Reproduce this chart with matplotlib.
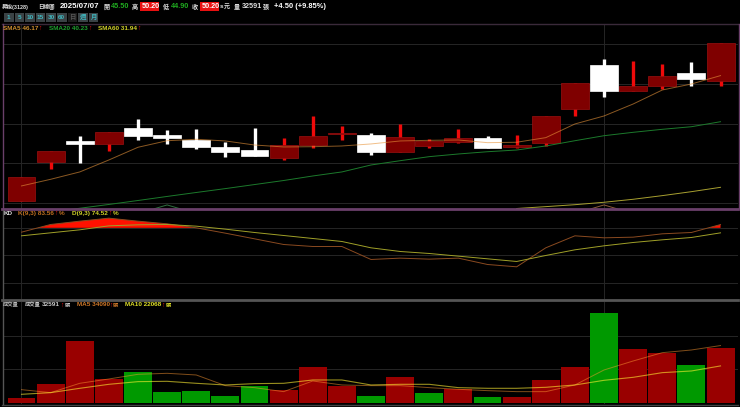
#!/usr/bin/env python3

import matplotlib
matplotlib.use("Agg")
import matplotlib.pyplot as plt
from matplotlib.patches import Rectangle
import numpy as np

plt.rcParams["font.family"] = ["Liberation Sans", "Noto Sans CJK TC", "DejaVu Sans"]

nan = np.nan
W, H = 740, 407

opens = [30.71, 35.49, 38.12, 37.75, 39.69, 38.79, 38.25, 37.31, 37.01, 36.02, 37.63, 38.92, 38.83,
         36.76, 37.51, 38.00, 38.50, 37.38, 37.88, 42.08, 47.44, 44.23, 44.85, 46.53, 45.50]
highs = [33.67, 36.89, 38.71, 39.16, 40.77, 39.45, 39.53, 37.96, 39.69, 38.46, 41.18, 39.94, 39.11,
         40.19, 38.37, 39.61, 38.71, 38.83, 41.18, 45.22, 48.22, 48.01, 47.57, 47.85, 50.20]
lows = [30.71, 34.59, 35.33, 36.81, 38.21, 37.75, 37.10, 36.15, 36.23, 35.74, 37.26, 38.21, 36.36,
        36.76, 37.26, 37.88, 37.26, 37.22, 37.51, 41.21, 43.56, 44.23, 44.55, 44.92, 44.90]
closes = [33.67, 36.89, 37.75, 39.16, 38.74, 38.42, 37.31, 36.76, 36.23, 37.59, 38.67, 39.11, 36.69,
          38.54, 38.12, 38.50, 37.26, 37.59, 41.18, 45.22, 44.27, 44.89, 46.08, 45.71, 50.20]
sma5 = [32.53, 33.35, 34.26, 35.74, 37.31, 38.12, 38.30, 38.09, 37.59, 37.35, 37.38, 37.47, 37.72,
        38.09, 38.17, 38.21, 37.88, 37.93, 38.50, 40.19, 41.18, 42.66, 44.39, 45.13, 46.17]
sma20 = [28.82, 29.31, 29.77, 30.24, 30.73, 31.23, 31.72, 32.20, 32.70, 33.20, 33.76, 34.26, 35.12,
         35.65, 36.15, 36.48, 36.76, 36.97, 37.47, 38.12, 38.74, 39.16, 39.53, 39.85, 40.47]
sma60 = [nan, nan, nan, nan, nan, nan, nan, nan, nan, nan, nan, nan, nan,
         nan, nan, nan, nan, 29.74, 29.97, 30.21, 30.51, 30.88, 31.33, 31.82, 32.36]
stub_x = [-0.45, 0, 0.45]
stub_y = [29.70, 30.18, 29.70]
price_grid = [50.04, 45.10, 40.15, 35.33, 30.40]

k_vals = [75.27, 83.64, 87.27, 90.54, 87.27, 84.36, 80.00, 74.18, 68.00, 61.82, 59.64, 59.64, 45.47,
          46.92, 45.83, 46.92, 40.00, 37.47, 58.19, 71.28, 69.10, 69.82, 73.46, 74.91, 83.56]
d_vals = [71.28, 74.55, 77.82, 82.18, 83.27, 83.64, 81.82, 78.55, 74.91, 71.64, 68.37, 65.10, 58.19,
          54.19, 52.01, 49.10, 46.19, 43.29, 49.83, 56.01, 60.37, 64.00, 66.91, 69.46, 74.52]
kd_grid = [80, 50, 20]

volume = [3147, 11605, 36980, 14360, 18293, 6688, 7475, 4327, 10425, 7671, 21440, 10425, 4131,
          15343, 6098, 8458, 3737, 3737, 13572, 21637, 53306, 32259, 29898, 22424, 32591]
vol_up = [1, 1, 1, 1, 0, 0, 0, 0, 0, 1, 1, 1, 0,
          1, 0, 1, 0, 1, 1, 1, 0, 1, 1, 0, 1]
ma5 = [8065, 6294, 11802, 14359, 17113, 17703, 16720, 10425, 9245, 6885, 13179, 10819, 10425,
       10425, 9245, 8261, 7475, 6885, 6885, 10819, 19670, 24981, 29898, 31472, 34090]
ma10 = [5311, 6294, 8852, 11212, 12786, 12982, 11802, 10819, 11605, 11802, 13769, 13769, 10819,
        11212, 11212, 9245, 8852, 8852, 9442, 10819, 13572, 15343, 18096, 19080, 22068]
vol_grid = [20000, 40000]

periods = ["1", "5", "10", "15", "30", "60", "日", "週", "月"]
x_grid = [0, 20]

x = np.arange(len(opens))
opens, closes, highs, lows = map(np.array, (opens, closes, highs, lows))
k_vals = np.array(k_vals)
up = closes >= opens

GRID = "#262626"
DARK = "#7f0000"
RED = "#ee0a0a"
ARROW = "#f01414"


def panel(top, bottom):
    ax = fig.add_axes([3 / W, 1 - bottom / H, (738 - 3) / W, (bottom - top) / H])
    ax.set_facecolor("black")
    ax.set_xlim(-0.635, 24.6)
    ax.set_xticks([])
    ax.set_yticks([])
    for s in ax.spines.values():
        s.set_visible(False)
    for g in x_grid:
        ax.axvline(g, color=GRID, lw=0.7, zorder=0)
    return ax


def txt(px, py, s, color="#dddddd", size=4.6, **kw):
    fig.text(px / W, 1 - py / H, s, color=color, fontsize=size, va="center",
             fontweight="bold", **kw)


fig = plt.figure(figsize=(7.4, 4.07), dpi=100, facecolor="black")

# price panel
ax1 = panel(24, 208.5)
ax1.set_ylim(29.74, 52.55)
for g in price_grid:
    ax1.axhline(g, color=GRID, lw=0.7, zorder=0)
wick_col = [RED if u else "white" for u in up]
ax1.vlines(x, lows, highs, colors=wick_col, lw=2.4, zorder=2)
body_bot = np.minimum(opens, closes)
body_h = np.abs(closes - opens)
ax1.bar(x, body_h, 0.96, bottom=body_bot, color=[DARK if u else "white" for u in up],
        edgecolor=["#9c1010" if u else "white" for u in up], lw=0.5, zorder=3)
ax1.plot(x, sma5, color="#e8943a", lw=0.7, alpha=0.6, zorder=4)
ax1.plot(x, sma20, color="#1c7a2c", lw=0.7, zorder=4)
ax1.plot(x, sma60, color="#a8a030", lw=0.7, zorder=4)
ax1.plot(np.array(stub_x) + 5, stub_y, color="#2f6f3f", lw=0.7, zorder=4)
ax1.plot(np.array(stub_x) + 20, stub_y, color="#8a5a3a", lw=0.7, zorder=4)

# KD panel
ax2 = panel(210.5, 298.5)
ax2.set_ylim(2.9, 98.9)
for g in kd_grid:
    ax2.axhline(g, color=GRID, lw=0.7, zorder=0)
ax2.fill_between(x, k_vals, 80, where=k_vals > 80, interpolate=True, color="#ff1100", lw=0, zorder=2)
ax2.plot(x, k_vals, color="#8a4a20", lw=0.7, zorder=3)
ax2.plot(x, d_vals, color="#a0a028", lw=0.7, zorder=3)

# volume panel
ax3 = panel(301.5, 404)
ax3.set_ylim(-413, 60100)
for g in vol_grid:
    ax3.axhline(g, color=GRID, lw=0.7, zorder=0)
ax3.bar(x, volume, 0.96, color=["#990000" if u else "#009900" for u in vol_up], lw=0, zorder=2)
ax3.plot(x, ma5, color="#ff9933", lw=0.7, alpha=0.5, zorder=3)
ax3.plot(x, ma10, color="#ffee33", lw=0.8, alpha=0.6, zorder=3)

# frame lines
for y0, col, lw in [(23.5, "#3a2a3a", 1), (209.3, "#6a3f6a", 2), (300, "#555555", 2), (404.5, "#444444", 1)]:
    fig.add_artist(plt.Line2D([2 / W, 738 / W], [1 - y0 / H] * 2, color=col, lw=lw))
fig.add_artist(plt.Line2D([2.5 / W] * 2, [1 - 24 / H, 1 - 208 / H], color="#6a3f6a", lw=1))
fig.add_artist(plt.Line2D([2.5 / W] * 2, [1 - 210 / H, 1 - 404 / H], color="#555555", lw=1))
fig.add_artist(plt.Line2D([738.5 / W] * 2, [1 - 24 / H, 1 - 208 / H], color="#6a3f6a", lw=1))

# header
for bx in (140, 200):
    fig.add_artist(Rectangle((bx / W, 1 - 10.5 / H), 19 / W, 8 / H, color="#e81010", lw=0,
                             transform=fig.transFigure))
txt(2, 6.5, "昇銳(3128)", size=4.0)
txt(38, 6.5, "日線圖", size=4.0)
txt(60, 6.5, "2025/07/07", "white", size=5.7)
txt(103, 6.5, "開", size=4.4)
txt(111, 6.5, "45.50", "#1faa1f", size=5.2)
txt(132, 6.5, "高", size=4.4)
txt(142, 6.5, "50.20", "white", size=5.2)
txt(163, 6.5, "低", size=4.4)
txt(171, 6.5, "44.90", "#1faa1f", size=5.2)
txt(192, 6.5, "收", size=4.4)
txt(202, 6.5, "50.20", "white", size=5.2)
txt(220, 6.5, "s", size=4.6)
txt(224, 6.5, "元", size=4.4)
txt(234, 6.5, "量", size=4.4)
txt(242, 6.5, "32591", size=5.2)
txt(263, 6.5, "張", size=4.4)
txt(274, 6.5, "+4.50 (+9.85%)", "white", size=5.4)

# period buttons
for i, p in enumerate(periods):
    bx = 4 + i * 10.6
    fig.add_artist(Rectangle((bx / W, 1 - 22 / H), 9.6 / W, 9.4 / H,
                             color="#1c1c1c" if p == "日" else "#3a4245", lw=0,
                             transform=fig.transFigure))
    txt(bx + 4.8, 17.3, p, "#555555" if p == "日" else "#3fb8c0", size=4.6, ha="center")

# legends
txt(3, 28, "SMA5 46.17", "#d09030")
txt(38, 28, "↑", ARROW, size=4.8)
txt(49, 28, "SMA20 40.23", "#1fa02f")
txt(88, 28, "↑", ARROW, size=4.8)
txt(98, 28, "SMA60 31.94", "#d0d028")
txt(137, 28, "↑", ARROW, size=4.8)

txt(4, 213.7, "KD", "#dddddd")
txt(18, 213.7, "K(9,3) 83.56", "#c07020")
txt(54.5, 213.7, "↑", ARROW, size=4.8)
txt(59, 213.7, "%", "#c07020")
txt(72, 213.7, "D(9,3) 74.52", "#d0d028")
txt(108, 213.7, "↑", ARROW, size=4.8)
txt(113, 213.7, "%", "#d0d028")

txt(3, 305, "成交量", "#bbbbbb", size=3.8)
txt(25, 305, "成交量", "#cccccc", size=3.8)
txt(41.5, 305, "32591", "#cccccc")
txt(60, 305, "↑", ARROW, size=4.8)
txt(64.5, 305, "張", "#cccccc", size=3.8)
txt(77, 305, "MA5 34090", "#d07828")
txt(109, 305, "↑", ARROW, size=4.8)
txt(113, 305, "張", "#d07828", size=3.8)
txt(125, 305, "MA10 22068", "#e0e028")
txt(161, 305, "↑", ARROW, size=4.8)
txt(165.5, 305, "張", "#e0e028", size=3.8)

fig.savefig("out.png", dpi=100, facecolor="black")
